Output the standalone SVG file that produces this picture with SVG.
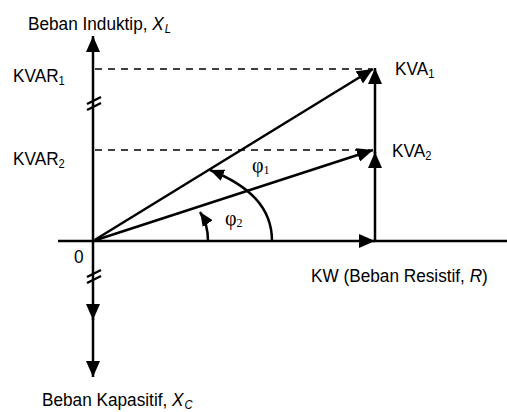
<svg xmlns="http://www.w3.org/2000/svg" width="507" height="412" viewBox="0 0 507 412">
<style>
.t{font-family:"Liberation Sans",Arial,sans-serif;font-size:18.5px;fill:#000}
.g{font-family:"Liberation Serif","Times New Roman",serif;font-size:20px;fill:#000}
.sub{font-size:12px}
.ln{stroke:#000;stroke-width:2.5;fill:none}
.ds{stroke:#000;stroke-width:1.5;fill:none;stroke-dasharray:7 6}
</style>
<defs>
<marker id="ah" viewBox="0 0 16 14" refX="16" refY="7" markerWidth="16" markerHeight="14" orient="auto" markerUnits="userSpaceOnUse">
<path d="M0,0 L16,7 L0,14 z" fill="#000"/>
</marker>
<marker id="as" viewBox="0 0 14 12" refX="14" refY="6" markerWidth="14" markerHeight="12" orient="auto" markerUnits="userSpaceOnUse">
<path d="M0,0 L14,6 L0,12 z" fill="#000"/>
</marker>
</defs>
<g id="connectors">
<line class="ds" x1="95" y1="69" x2="372" y2="69"/>
<line class="ds" x1="95" y1="150" x2="370" y2="150"/>
<line class="ln" x1="93" y1="241" x2="93" y2="36" marker-end="url(#ah)"/>
<line class="ln" x1="93" y1="241" x2="93" y2="320" marker-end="url(#ah)"/>
<line class="ln" x1="93" y1="318" x2="93" y2="377" marker-end="url(#ah)"/>
<line class="ln" x1="58" y1="241" x2="375" y2="241" marker-end="url(#ah)"/>
<line class="ln" x1="373" y1="241" x2="507" y2="241"/>
<line class="ln" x1="375" y1="241" x2="375" y2="152" marker-end="url(#ah)"/>
<line class="ln" x1="375" y1="154" x2="375" y2="68" marker-end="url(#ah)"/>
<line class="ln" x1="93" y1="241" x2="373" y2="69" marker-end="url(#ah)"/>
<line class="ln" x1="93" y1="241" x2="373" y2="150" marker-end="url(#ah)"/>
<path class="ln" d="M272,241 C272,208 250,186 210,170" marker-end="url(#as)"/>
<path class="ln" d="M208,241 C208,230 206,221 200,212" marker-end="url(#as)"/>
<path class="ln" stroke-width="1.8" d="M87,104 L101,97 M87,110 L101,103"/>
<path class="ln" stroke-width="1.8" d="M87,277 L101,270 M87,283 L101,276"/>
</g>
<g id="label-induktip"><text class="t" transform="matrix(0.93 0 0 1 28 30)">Beban Induktip, <tspan font-style="italic">X</tspan><tspan class="sub" font-style="italic" dx="1" dy="3">L</tspan></text></g>
<g id="label-kvar1"><text class="t" transform="matrix(0.93 0 0 1 13 82)">KVAR<tspan class="sub" dy="3">1</tspan></text></g>
<g id="label-kvar2"><text class="t" transform="matrix(0.93 0 0 1 13 165)">KVAR<tspan class="sub" dy="3">2</tspan></text></g>
<g id="label-kva1"><text class="t" transform="matrix(0.93 0 0 1 395 75)">KVA<tspan class="sub" dy="3">1</tspan></text></g>
<g id="label-kva2"><text class="t" transform="matrix(0.93 0 0 1 392 157)">KVA<tspan class="sub" dy="3">2</tspan></text></g>
<g id="label-phi1"><text class="g" x="252" y="172">φ<tspan class="sub" font-size="13" dy="2">1</tspan></text></g>
<g id="label-phi2"><text class="g" x="225" y="225">φ<tspan class="sub" font-size="13" dy="2">2</tspan></text></g>
<g id="label-zero"><text class="t" transform="matrix(0.93 0 0 1 74 263)">0</text></g>
<g id="label-kw"><text class="t" transform="matrix(0.93 0 0 1 311 282)">KW (Beban Resistif, <tspan font-style="italic">R</tspan>)</text></g>
<g id="label-kapasitif"><text class="t" transform="matrix(0.93 0 0 1 42 406)">Beban Kapasitif, <tspan font-style="italic">X</tspan><tspan class="sub" font-style="italic" dx="1" dy="3">C</tspan></text></g>
</svg>
